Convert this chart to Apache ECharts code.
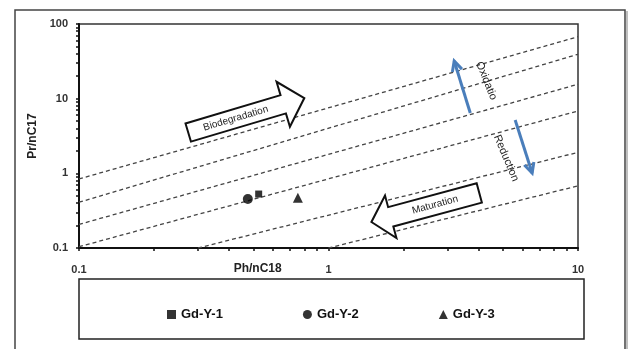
<!DOCTYPE html>
<html><head><meta charset="utf-8">
<script src="https://cdn.jsdelivr.net/npm/echarts@6/dist/echarts.min.js"></script>
<style>html,body{margin:0;padding:0;background:#fff}#c{width:631px;height:349px}</style>
</head><body><div id="c"></div>
<script>
// ---- data ----
const seriesNames = ['Gd-Y-1', 'Gd-Y-2', 'Gd-Y-3'];
const gdY1 = [[0.525, 0.528]];   // Ph/nC18, Pr/nC17
const gdY2 = [[0.475, 0.453]];
const gdY3 = [[0.754, 0.472]];
// dashed reference lines: [start, end] in data units
const guide1 = [[0.1, 0.84], [10, 67.6]];
const guide2 = [[0.1, 0.41], [10, 39.3]];
const guide3 = [[0.1, 0.207], [10, 15.6]];
const guide4 = [[0.1, 0.104], [10, 6.84]];
const guide5 = [[0.30, 0.1], [10, 1.91]];
const guide6 = [[1.0, 0.1], [10, 0.68]];
const xTickLabels = [0.1, 1, 10];
const yTickLabels = [0.1, 1, 10, 100];
const xTicks = [0.1,0.2,0.3,0.4,0.5,0.6,0.7,0.8,0.9,1,2,3,4,5,6,7,8,9,10];
const yTicks = [0.1,0.2,0.3,0.4,0.5,0.6,0.7,0.8,0.9,1,2,3,4,5,6,7,8,9,10,20,30,40,50,60,70,80,90,100];
// annotation anchors (data units)
const bioArrow = {tail: [0.274, 3.52], tip: [0.80, 10.2], label: 'Biodegradation'};
const matArrow = {tail: [4.02, 0.546], tip: [1.486, 0.223], label: 'Maturation'};
const oxArrow = {tail: [3.70, 6.43], tip: [3.19, 31.9]};
const redArrow = {tail: [5.60, 5.18], tip: [6.55, 1.01]};
const oxText = {pos: [4.29, 17.3], text: 'Oxidatio'};
const redText = {pos: [5.15, 1.60], text: 'Reduction'};

const FONT = '"Liberation Sans", Arial, sans-serif';
const chart = echarts.init(document.getElementById('c'), null, {renderer: 'canvas'});

function guideSeries(d) {
  return {type: 'line', data: d, symbol: 'none', silent: true, z: 2,
    lineStyle: {color: '#444', width: 1.3, type: [4, 3]}, legendHoverLink: false, tooltip: {show: false}};
}

chart.setOption({
  animation: false,
  backgroundColor: '#fff',
  grid: {left: 79, top: 24, right: 53, bottom: 101, show: true, borderColor: '#333', borderWidth: 1.5, backgroundColor: '#fff'},
  xAxis: {
    type: 'log', logBase: 10, min: 0.1, max: 10,
    axisLine: {show: true, lineStyle: {color: '#111', width: 2}},
    axisTick: {show: true, length: 3, lineStyle: {color: '#111', width: 1.5}, customValues: xTicks},
    minorTick: {show: false}, splitLine: {show: false},
    axisLabel: {customValues: xTickLabels, margin: 16, color: '#333', fontSize: 11, fontWeight: 'bold', fontFamily: FONT,
      formatter: v => String(+v.toPrecision(3))}
  },
  yAxis: {
    type: 'log', logBase: 10, min: 0.1, max: 100,
    name: 'Pr/nC17', nameLocation: 'middle', nameGap: 30,
    nameTextStyle: {color: '#222', fontSize: 12, fontWeight: 'bold', fontFamily: FONT},
    axisLine: {show: true, lineStyle: {color: '#111', width: 2}},
    axisTick: {show: true, length: 3, lineStyle: {color: '#111', width: 1.5}, customValues: yTicks},
    minorTick: {show: false}, splitLine: {show: false},
    axisLabel: {customValues: yTickLabels, margin: 11, color: '#333', fontSize: 11, fontWeight: 'bold', fontFamily: FONT,
      formatter: v => String(+v.toPrecision(3))}
  },
  legend: {
    data: seriesNames, left: 162, top: 303, itemGap: 80, itemWidth: 9, itemHeight: 9, selectedMode: false,
    textStyle: {color: '#111', fontSize: 13, fontWeight: 'bold', fontFamily: FONT}
  },
  series: [
    guideSeries(guide1), guideSeries(guide2), guideSeries(guide3),
    guideSeries(guide4), guideSeries(guide5), guideSeries(guide6),
    {name: seriesNames[0], type: 'scatter', data: gdY1, symbol: 'rect', symbolSize: 7, itemStyle: {color: '#000'}, z: 5},
    {name: seriesNames[1], type: 'scatter', data: gdY2, symbol: 'circle', symbolSize: 10, itemStyle: {color: '#000'}, z: 5},
    {name: seriesNames[2], type: 'scatter', data: gdY3, symbol: 'triangle', symbolSize: 10, itemStyle: {color: '#000'}, z: 5}
  ]
});

function P(d) { return chart.convertToPixel({gridIndex: 0}, d); }

function blockArrow(a, s, h, hl) {
  const T = P(a.tail), E = P(a.tip);
  const dx = E[0] - T[0], dy = E[1] - T[1], L = Math.hypot(dx, dy);
  const u = [dx / L, dy / L], n = [-u[1], u[0]];
  const B = [E[0] - u[0] * hl, E[1] - u[1] * hl];
  const pt = (o, k) => [o[0] + n[0] * k, o[1] + n[1] * k];
  const pts = [pt(T, s), pt(B, s), pt(B, h), E, pt(B, -h), pt(B, -s), pt(T, -s)];
  const ang = dx >= 0 ? Math.atan2(-dy, dx) : Math.atan2(dy, -dx);
  const mid = [(T[0] + B[0]) / 2, (T[1] + B[1]) / 2];
  return [
    {type: 'polygon', shape: {points: pts}, style: {fill: '#fff', stroke: '#111', lineWidth: 2}, z: 10},
    {type: 'text', x: mid[0], y: mid[1], rotation: ang, z: 11,
      style: {text: a.label, fill: '#222', font: '10px ' + FONT, align: 'center', verticalAlign: 'middle'}}
  ];
}

function blueArrow(a) {
  const T = P(a.tail), E = P(a.tip);
  const dx = E[0] - T[0], dy = E[1] - T[1], L = Math.hypot(dx, dy);
  const u = [dx / L, dy / L], n = [-u[1], u[0]];
  const hl = 10, hw = 5;
  const b1 = [E[0] - u[0] * hl + n[0] * hw, E[1] - u[1] * hl + n[1] * hw];
  const b2 = [E[0] - u[0] * hl - n[0] * hw, E[1] - u[1] * hl - n[1] * hw];
  return [
    {type: 'polyline', shape: {points: [T, E]}, style: {stroke: '#4A7EBB', lineWidth: 3}, z: 10},
    {type: 'polyline', shape: {points: [b1, E, b2]}, style: {stroke: '#4A7EBB', lineWidth: 3, fill: null, lineJoin: 'miter'}, z: 10}
  ];
}

// deg: clockwise rotation in degrees (text reads downward to the right)
function rotText(t, deg) {
  const p = P(t.pos);
  return {type: 'text', x: p[0], y: p[1], rotation: -deg * Math.PI / 180, z: 11,
    style: {text: t.text, fill: '#222', font: '11px ' + FONT, align: 'center', verticalAlign: 'middle'}};
}

const xName = P([0.52, 0.1]);
chart.setOption({
  graphic: [
    {type: 'rect', shape: {x: 15, y: 10, width: 610, height: 345}, style: {fill: null, stroke: '#444', lineWidth: 1.5}, z: 0},
    {type: 'line', shape: {x1: 627, y1: 11, x2: 627, y2: 349}, style: {stroke: '#aaa', lineWidth: 1.5}, z: 0},
    {type: 'rect', shape: {x: 79, y: 279, width: 505, height: 60}, style: {fill: null, stroke: '#222', lineWidth: 1.5}, z: 1},
    {type: 'text', x: xName[0], y: 269, z: 11,
      style: {text: 'Ph/nC18', fill: '#222', font: 'bold 12px ' + FONT, align: 'center', verticalAlign: 'middle'}},
    ...blockArrow(bioArrow, 9.5, 23.5, 22),
    ...blockArrow(matArrow, 10, 22, 20),
    ...blueArrow(oxArrow),
    ...blueArrow(redArrow),
    rotText(oxText, 68),
    rotText(redText, 67)
  ]
});
</script>
</body></html>
